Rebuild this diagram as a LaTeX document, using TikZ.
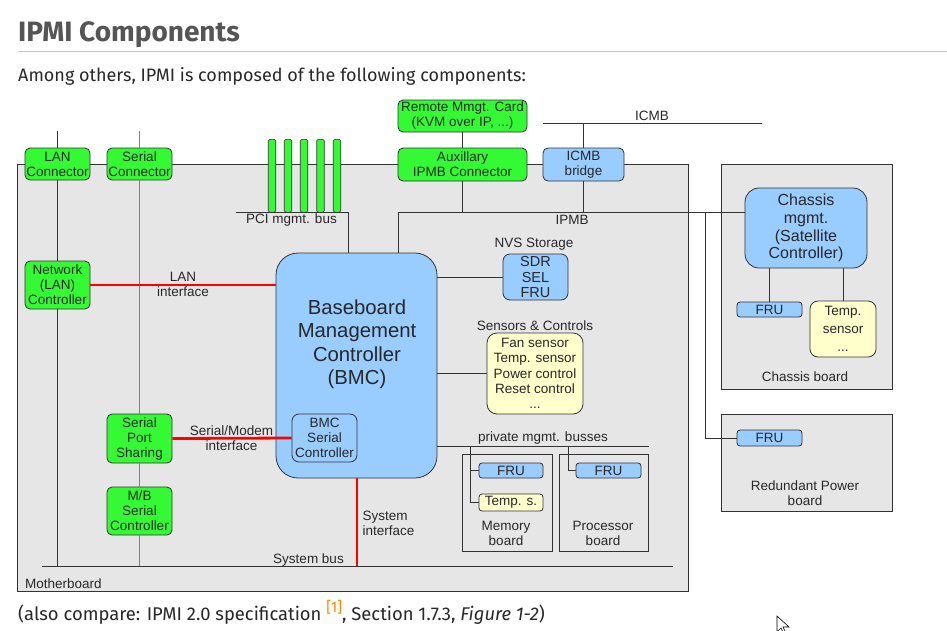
\documentclass[tikz,border=0pt]{standalone}
\usepackage{fontspec}
\setmainfont{Fira Sans}
\newfontfamily\dia{Liberation Sans}
\definecolor{grn}{RGB}{51,250,51}
\definecolor{lblue}{RGB}{153,204,255}
\definecolor{lyellow}{RGB}{255,255,204}
\definecolor{bggray}{RGB}{230,230,230}
\definecolor{boxline}{RGB}{51,51,51}
\definecolor{diatext}{RGB}{40,40,40}
\definecolor{headgray}{RGB}{85,85,85}
\definecolor{bodytext}{RGB}{40,40,40}
\definecolor{rulegray}{RGB}{200,200,200}
\definecolor{refor}{RGB}{255,136,0}
\newcommand{\sfnt}{\dia\fontsize{13.5}{15}\selectfont}
\tikzset{
  box/.style={draw=boxline, line width=0.8pt, rounded corners=5pt, align=center, inner sep=0pt, text=diatext, font=\sfnt},
  gbox/.style={box, fill=grn},
  bbox/.style={box, fill=lblue},
  ybox/.style={box, fill=lyellow},
  board/.style={draw=boxline, line width=0.8pt, fill=bggray, inner sep=0pt, anchor=north west},
  wire/.style={draw=boxline, line width=0.8pt},
  redwire/.style={draw=red, line width=2.8pt},
  lbl/.style={font=\sfnt, text=diatext, inner sep=0pt, align=center},
  pcibar/.style={fill=grn, draw=boxline, line width=0.6pt, rounded corners=1.5pt, minimum width=7.5pt, minimum height=73pt, inner sep=0pt, anchor=north}
}
\begin{document}
\begin{tikzpicture}[x=1pt,y=-1pt]
\useasboundingbox (0,0) rectangle (947,630);
\fill[white] (0,0) rectangle (947,630);
% page text
\node[anchor=base west, inner sep=0, text=headgray, font=\fontsize{28}{31}\selectfont\bfseries] (title) at (18,41.5) {IPMI Components};
\coordinate (ruleL) at (18,51);
\coordinate (ruleR) at (947,51);
\draw[rulegray, line width=1pt] (ruleL) -- (ruleR);
\node[anchor=base west, inner sep=0, text=bodytext, font=\fontsize{18}{21}\selectfont] (intro) at (18,81.5) {Among others, IPMI is composed of the following components:};
\node[anchor=base west, inner sep=0, text=bodytext, font=\fontsize{18.4}{21}\selectfont] (caption) at (18,620) {(also compare: IPMI 2.0 specification \textcolor{refor}{\raisebox{0.42em}{\fontsize{15}{16}\selectfont[1]}}, Section 1.7.3, \textit{Figure 1-2})};

% boards
\node[board, minimum width=671, minimum height=427] (mb) at (17,164) {};
\node[board, minimum width=171, minimum height=225] (chb) at (721,164) {};
\node[board, minimum width=171, minimum height=97] (rpb) at (721,414) {};
\node[board, minimum width=90, minimum height=97] (memb) at (462,454) {};
\node[board, minimum width=89, minimum height=97] (procb) at (559,454) {};

% PCI bars
\foreach \i/\xx in {1/272,2/288,3/304,4/320.5,5/337}
  \node[pcibar] (pci\i) at (\xx,139) {};

% nodes
\node[gbox, minimum width=65, minimum height=32] (lanc) at (57.5,164) {LAN\\Connector};
\node[gbox, minimum width=65, minimum height=32] (serc) at (139.5,164) {Serial\\Connector};
\node[gbox, minimum width=65, minimum height=48] (netc) at (57.5,285) {Network\\(LAN)\\Controller};
\node[gbox, minimum width=65, minimum height=49] (sps) at (139.5,438.5) {Serial\\Port\\Sharing};
\node[gbox, minimum width=65, minimum height=48] (mbs) at (139.5,511) {M/B\\Serial\\Controller};
\node[gbox, minimum width=129, minimum height=32] (rmc) at (462.5,116) {Remote Mmgt. Card\\(KVM over IP, ...)};
\node[gbox, minimum width=129, minimum height=33] (aux) at (462.5,164.5) {Auxillary\\IPMB Connector};
\node[bbox, minimum width=81, minimum height=33] (icmbb) at (583.5,164.5) {ICMB\\bridge};
\node[bbox, rounded corners=22pt, minimum width=161, minimum height=225] (bmc) at (356.5,365.5) {};
\node[lbl, font=\dia\fontsize{20.3}{23.5}\selectfont] (bmctext) at (357,344) {Baseboard\\Management\\Controller\\(BMC)};
\node[bbox, rounded corners=7pt, minimum width=65, minimum height=48] (bmcs) at (324.5,438) {BMC\\Serial\\Controller};
\node[bbox, rounded corners=7pt, minimum width=65, minimum height=46, font=\dia\fontsize{14.5}{15.5}\selectfont] (nvs) at (535.5,277) {SDR\\SEL\\FRU};
\node[ybox, rounded corners=10pt, minimum width=96, minimum height=81, font=\dia\fontsize{13.5}{15.3}\selectfont] (sens) at (535,373.5) {Fan sensor\\Temp. sensor\\Power control\\Reset control\\...};
\node[bbox, rounded corners=3pt, minimum width=64, minimum height=15] (memfru) at (511,470.5) {FRU};
\node[ybox, rounded corners=3pt, minimum width=64, minimum height=17] (memtemp) at (511,502.5) {Temp. s.};
\node[bbox, rounded corners=3pt, minimum width=65, minimum height=15] (procfru) at (608.5,470.5) {FRU};
\node[bbox, rounded corners=14pt, minimum width=122, minimum height=80, font=\dia\fontsize{16}{17.9}\selectfont] (cm) at (806,228) {Chassis\\mgmt.\\(Satellite\\Controller)};
\node[bbox, rounded corners=3pt, minimum width=65, minimum height=15] (chfru) at (769.5,309.5) {FRU};
\node[ybox, rounded corners=8pt, minimum width=66, minimum height=56, font=\dia\fontsize{13.5}{18}\selectfont] (chtemp) at (843,329) {Temp.\\sensor\\...};
\node[bbox, rounded corners=3pt, minimum width=65, minimum height=16] (rpfru) at (769.5,438) {FRU};

% labels
\node[lbl] (pcil) at (291.5,220) {PCI mgmt. bus};
\node[lbl] (lanl) at (183,284.5) {LAN\\interface};
\node[lbl] (serl) at (231.5,438) {Serial/Modem\\interface};
\node[lbl] (sysbl) at (308.5,560) {System bus};
\node[lbl, anchor=west, align=left] (sysil) at (362.5,523) {System\\interface};
\node[lbl] (nvsl) at (534,244) {NVS Storage};
\node[lbl] (sensl) at (535,326) {Sensors \& Controls};
\node[lbl] (privl) at (543,438) {private mgmt. busses};
\node[lbl] (meml) at (506,533) {Memory\\board};
\node[lbl] (procl) at (603,533) {Processor\\board};
\node[lbl] (icmbl) at (652,116) {ICMB};
\node[lbl] (ipmbl) at (572,219.5) {IPMB};
\node[lbl] (chbl) at (805,377) {Chassis board};
\node[lbl] (rpbl) at (805,493) {Redundant Power\\board};
\node[lbl, anchor=west] (mbl) at (25,584) {Motherboard};

% coordinates
\coordinate (lantop) at (57.5,131);
\coordinate (lanbot) at (57.5,566);
\coordinate (sertop) at (139.5,131);
\coordinate (serbot) at (139.5,566);
\coordinate (sysL) at (42,566);
\coordinate (sysR) at (673,566);
\coordinate (ipmbL) at (398,212);
\coordinate (pciL) at (236,212);
\coordinate (pciR) at (348,212);
\coordinate (icmbL) at (543,123);
\coordinate (icmbR) at (762,123);
\coordinate (privL) at (437,446);
\coordinate (privR) at (649,446);
\coordinate (memx) at (470.7,446);
\coordinate (procx) at (568,446);
\coordinate (rpx) at (705,212);
\coordinate (sysi) at (357,566);

% wires
\draw[wire] (lantop) -- (lanc.north);
\draw[wire] (lanc.south) -- (netc.north);
\draw[wire] (netc.south) -- (lanbot);
\draw[wire, draw=gray] (sertop) -- (serc.north);
\draw[wire, draw=gray] (serc.south) -- (sps.north);
\draw[wire, draw=gray] (sps.south) -- (mbs.north);
\draw[wire, draw=gray] (mbs.south) -- (serbot);
\draw[wire] (sysL) -- (sysR);
\draw[wire] (rmc.south) -- (aux.north);
\draw[wire] (aux.south) -- (aux.south |- ipmbL);
\draw[wire] (bmc.north -| ipmbL) -- (ipmbL) -- (ipmbL -| cm.west);
\draw[wire] (icmbL) -- (icmbR);
\draw[wire] (icmbb.north) -- (icmbb.north |- icmbL);
\draw[wire] (icmbb.south) -- (icmbb.south |- ipmbL);
\draw[wire] (pciL) -- (pciR) -- (pciR |- bmc.north);
\draw[wire] (bmc.east |- nvs.west) -- (nvs.west);
\draw[wire] (bmc.east |- sens.west) -- (sens.west);
\draw[wire] (privL) -- (privR);
\draw[wire] (memx) -- (memx |- memtemp.west) -- (memtemp.west);
\draw[wire] (memx |- memfru.west) -- (memfru.west);
\draw[wire] (procx) -- (procx |- procfru.west) -- (procfru.west);
\draw[wire] (chfru.north |- cm.south) -- (chfru.north);
\draw[wire] (chtemp.north |- cm.south) -- (chtemp.north);
\draw[wire] (rpx) -- (rpx |- rpfru.west) -- (rpfru.west);
\draw[redwire] (netc.east) -- (netc.east -| bmc.west);
\draw[redwire] (sps.east) -- (bmcs.west);
\draw[redwire] (sysi |- bmc.south) -- (sysi);

% mouse pointer
\draw[fill=white, line width=0.6pt] (777,616) -- (777,632) -- (781,628) -- (784,634) -- (786,633) -- (783,627) -- (789,627) -- cycle;
\end{tikzpicture}
\end{document}
